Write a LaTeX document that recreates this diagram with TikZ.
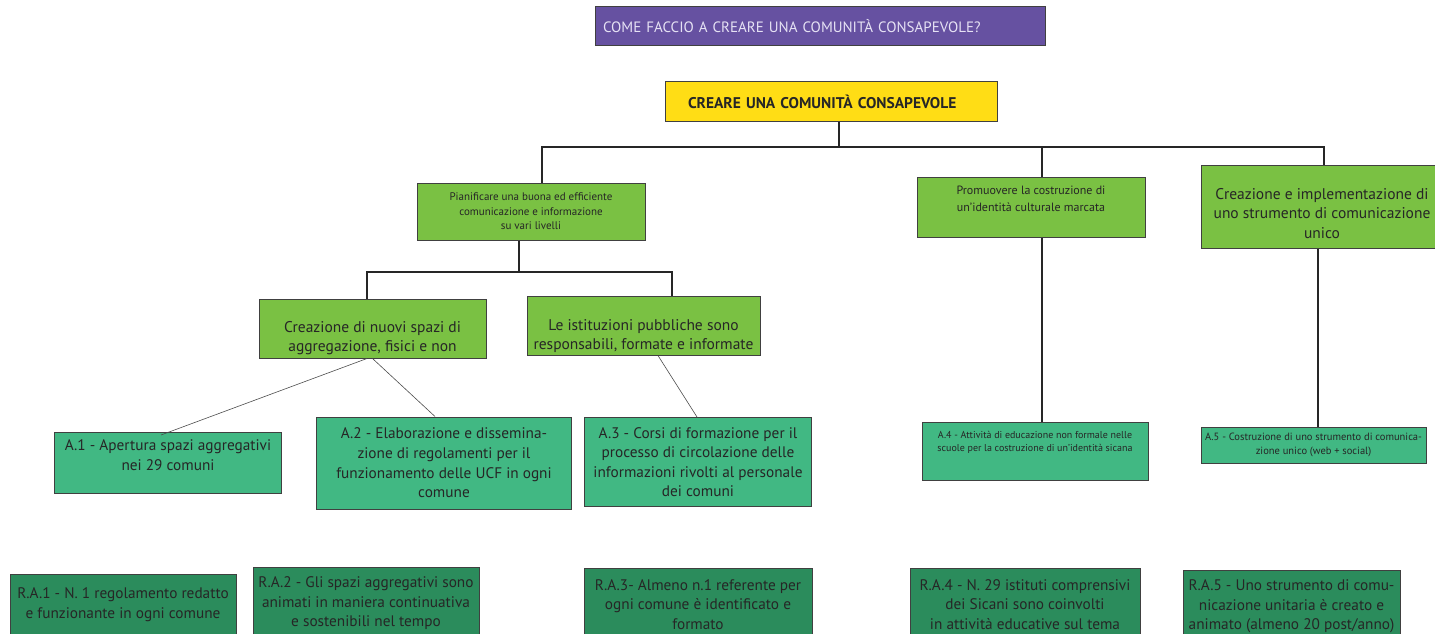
\documentclass[tikz,border=0pt]{standalone}
\usepackage{fontspec}
\setmainfont{PT Sans}
\usepackage{tikz}
\usepackage{xcolor}

\definecolor{titleviolet}{HTML}{6651A1}
\definecolor{titletext}{HTML}{E6E2F4}
\definecolor{aimyellow}{HTML}{FFDD15}
\definecolor{goalgreen}{HTML}{7AC143}
\definecolor{actiongreen}{HTML}{41B883}
\definecolor{resultgreen}{HTML}{2B8C5C}
\newcommand{\cardfont}[2]{\fontsize{#1}{#2}\selectfont}
\newcommand{\padtop}[1]{\rule{0pt}{#1}}
\newcommand{\padbot}[1]{\rule[-#1]{0pt}{#1}}

\tikzset{
  card/.style={draw=black!75, line width=1pt, align=center, inner sep=2pt, text=black!85},
  goal/.style={card, fill=goalgreen},
  action/.style={card, fill=actiongreen},
  result/.style={card, fill=resultgreen, anchor=north, font=\cardfont{15.3}{19.5}},
  trunk/.style={line width=2.6pt, black!85},
  twig/.style={line width=0.6pt, black!70},
}

\begin{document}
\begin{tikzpicture}[x=1pt, y=-1pt]
  \useasboundingbox (0,0) rectangle (1435,634);
  \node[card, fill=titleviolet, text=titletext, font=\cardfont{15}{17}, inner xsep=8pt, text width=434, minimum height=39, align=left] (question) at (820,26.5) {COME FACCIO A CREARE UNA COMUNITÀ CONSAPEVOLE?};
  \node[card, fill=aimyellow, font=\bfseries\cardfont{15.5}{17}, inner xsep=23pt, text width=286, minimum height=39, align=left] (aim) at (831,101.5) {CREARE UNA COMUNITÀ CONSAPEVOLE};

  \node[goal, font=\cardfont{11}{14.5}, minimum width=228, minimum height=57] (goalA) at (531,211.5) {Pianificare una buona ed efficiente\\comunicazione e informazione\\su vari livelli};
  \node[goal, font=\cardfont{12}{17.5}, minimum width=228, minimum height=60] (goalB) at (1031,207) {Promuovere la costruzione di\\un'identità culturale marcata\padbot{16pt}};
  \node[goal, font=\cardfont{15.5}{19.5}, minimum width=242, minimum height=83] (goalC) at (1322,206.5) {\padtop{25pt}Creazione e implementazione di\\uno strumento di comunicazione\\unico};

  \node[goal, font=\cardfont{15.5}{19}, minimum width=227, minimum height=59] (spaces) at (372.5,328.5) {\padtop{30pt}Creazione di nuovi spazi di\\aggregazione, fisici e non};
  \node[goal, font=\cardfont{15.5}{19}, minimum width=233, minimum height=58] (publics) at (643.5,326) {\padtop{32pt}Le istituzioni pubbliche sono\\responsabili, formate e informate};

  \node[action, font=\cardfont{15.3}{20}, minimum width=227, minimum height=61] (act1) at (168,463) {A.1 - Apertura spazi aggregativi\\nei 29 comuni\padbot{16pt}};
  \node[action, font=\cardfont{15.3}{19.7}, minimum width=255, minimum height=92] (act2) at (444,463) {A.2 - Elaborazione e dissemina-\\zione di regolamenti per il\\funzionamento delle UCF in ogni\\comune};
  \node[action, font=\cardfont{15.3}{19.5}, minimum width=227, minimum height=89] (act3) at (698,462) {A.3 - Corsi di formazione per il\\processo di circolazione delle\\informazioni rivolti al personale\\dei comuni};
  \node[action, font=\cardfont{10}{12.5}, minimum width=226, minimum height=58] (act4) at (1035,451) {A.4 - Attività di educazione non formale nelle\\scuole per la costruzione di un'identità sicana\padbot{19pt}};
  \node[action, font=\cardfont{10.5}{14}, minimum width=225, minimum height=36] (act5) at (1313.5,445) {A.5 - Costruzione di uno strumento di comunica-\\zione unico (web + social)};

  \node[result, minimum width=226, minimum height=60] (res1) at (123,574) {R.A.1 - N. 1 regolamento redatto\\e funzionante in ogni comune};
  \node[result, minimum width=226, minimum height=72] (res2) at (366,567) {R.A.2 - Gli spazi aggregativi sono\\animati in maniera continuativa\\e sostenibili nel tempo};
  \node[result, minimum width=228, minimum height=72] (res3) at (698,568) {R.A.3- Almeno n.1 referente per\\ogni comune è identificato e\\formato};
  \node[result, minimum width=230, minimum height=72] (res4) at (1025,568) {R.A.4 - N. 29 istituti comprensivi\\dei Sicani sono coinvolti\\in attività educative sul tema};
  \node[result, minimum width=217, minimum height=72] (res5) at (1291.5,570) {R.A.5 - Uno strumento di comu-\\nicazione unitaria è creato e\\animato (almeno 20 post/anno)};

  \coordinate (split) at (839,147);
  \coordinate (fork) at (519,272);
  \draw[trunk] ([xshift=8]aim.south) -- (split);
  \draw[trunk] ([xshift=11]goalA.north) |- (split) -| ([xshift=2]goalC.north);
  \draw[trunk] ([xshift=11]goalB.north) -- ([xshift=11]goalB.north |- split);
  \draw[trunk] ([xshift=-12]goalA.south) -- (fork);
  \draw[trunk] ([xshift=-5.5]spaces.north) |- (fork) -| ([xshift=28.5]publics.north);
  \draw[trunk] ([xshift=11]goalB.south) -- ([xshift=7]act4.north);
  \draw[trunk] ([xshift=-4]goalC.south) -- ([xshift=4.5]act5.north);
  \draw[twig] ([xshift=-5.5]spaces.south) -- ([xshift=-7,yshift=-3]act1.north);
  \draw[twig] (spaces.south) -- ([xshift=-9]act2.north);
  \draw[twig] ([xshift=14.5]publics.south) -- ([xshift=-1]act3.north);
\end{tikzpicture}
\end{document}
